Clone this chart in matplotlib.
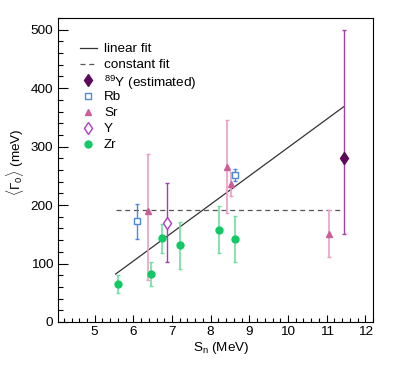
import matplotlib.pyplot as plt
from matplotlib.ticker import MultipleLocator
import numpy as np

plt.rcParams["font.family"] = ["Liberation Sans", "DejaVu Sans"]
plt.rcParams["mathtext.fontset"] = "custom"
plt.rcParams["mathtext.rm"] = "Liberation Sans"
plt.rcParams["mathtext.it"] = "Liberation Sans:italic"

# data
zr_sn = [5.59, 6.46, 6.74, 7.20, 8.22, 8.62]
zr_g = [65, 82, 143, 131, 158, 142]
zr_err = [15, 20, 25, 40, 40, 40]

rb_sn = [6.09, 8.64]
rb_g = [172, 252]
rb_err = [30, 10]

sr_sn = [6.38, 8.41, 8.52, 11.07]
sr_g = [190, 265, 236, 151]
sr_lo = [118, 78, 20, 40]
sr_hi = [98, 80, 20, 40]

y_sn = [6.86]
y_g = [170]
y_err = [67]

y89_sn = [11.44]
y89_g = [280]
y89_lo = [129]
y89_hi = [220]

# fits
fit_range = [5.54, 11.44]
lin_slope = 48.5
lin_intercept = -186.7
const_value = 192

FS = 9.7
W, H = 415, 365
AX_L, AX_R, AX_T, AX_B = 58, 373, 18, 322

fig = plt.figure(figsize=(W / 100, H / 100), dpi=100)
ax = fig.add_axes([AX_L / W, (H - AX_B) / H, (AX_R - AX_L) / W, (AX_B - AX_T) / H])

lin_style = dict(color="#333333", lw=0.9)
const_style = dict(color="#555555", lw=0.9, ls=(0, (4, 3)))
zr_style = dict(marker="o", ms=5, color="#12c965")
rb_style = dict(marker="s", ms=4.5, mfc="white", mec="#4a8ad8", mew=1.0)
sr_style = dict(marker="^", ms=5, color="#cc5f9a")
y_style = dict(marker="d", ms=6.5, mfc="white", mec="#b03cc0", mew=1.0)
y89_style = dict(marker="d", ms=6, color="#5a0a5a")

fx = np.array(fit_range)
ax.plot(fx, lin_intercept + lin_slope * fx, **lin_style)
ax.plot(fx, [const_value, const_value], **const_style)

eb = dict(ls="none", capsize=1.5, zorder=3)
ax.errorbar(zr_sn, zr_g, yerr=zr_err, ecolor="#6ee0a0", elinewidth=1.2, **zr_style, **eb)
ax.errorbar(rb_sn, rb_g, yerr=rb_err, ecolor="#4a8ad8", elinewidth=1.0, **rb_style, **eb)
ax.errorbar(sr_sn, sr_g, yerr=[sr_lo, sr_hi], ecolor="#eaa0c6", elinewidth=1.2, **sr_style, **eb)
ax.errorbar(y_sn, y_g, yerr=y_err, ecolor="#a040b0", elinewidth=1.0, **y_style, **eb)
ax.errorbar(y89_sn, y89_g, yerr=[y89_lo, y89_hi], ecolor="#a040a8", elinewidth=1.0, **y89_style, **eb)

ax.set_xlim(4.05, 12.2)
ax.set_ylim(0, 520)
ax.xaxis.set_major_locator(MultipleLocator(1))
ax.xaxis.set_minor_locator(MultipleLocator(0.2))
ax.yaxis.set_major_locator(MultipleLocator(100))
ax.yaxis.set_minor_locator(MultipleLocator(20))
ax.tick_params(which="both", direction="in", top=False, right=False, labelsize=FS)
ax.tick_params(axis="y", which="major", length=7, width=0.8)
ax.tick_params(axis="y", which="minor", length=3.5, width=0.8)
ax.tick_params(axis="x", which="major", length=5, width=0.8)
ax.tick_params(axis="x", which="minor", length=2.8, width=0.8)
ax.tick_params(axis="x", pad=3)
for s in ax.spines.values():
    s.set_linewidth(0.8)

fig.text(15 / W, 1 - 162 / H, r"$\langle\Gamma_0\rangle$ (meV)", rotation=90,
         ha="center", va="center", fontsize=FS)
fig.text(221 / W, 1 - 351 / H, r"S$_\mathrm{n}$ (MeV)", ha="center", va="baseline",
         fontsize=FS)

# legend drawn by hand, ROOT style
entries = [
    ("line", lin_style, "linear fit"),
    ("line", const_style, "constant fit"),
    ("mark", y89_style, r"$^{89}$Y (estimated)"),
    ("mark", rb_style, "Rb"),
    ("mark", sr_style, "Sr"),
    ("mark", y_style, "Y"),
    ("mark", zr_style, "Zr"),
]


def px_x(px):
    return (px - AX_L) / (AX_R - AX_L)


def px_y(py):
    return (AX_B - py) / (AX_B - AX_T)


for i, (kind, style, label) in enumerate(entries):
    py = 48 + 16 * i
    if kind == "line":
        ax.plot([px_x(80), px_x(97)], [px_y(py), px_y(py)], transform=ax.transAxes,
                clip_on=False, **style)
    else:
        ax.plot([px_x(88)], [px_y(py)], ls="none", transform=ax.transAxes,
                clip_on=False, **style)
    ax.text(px_x(104), px_y(py), label, transform=ax.transAxes, ha="left",
            va="center_baseline", fontsize=FS)

fig.savefig("out.png", dpi=100)
